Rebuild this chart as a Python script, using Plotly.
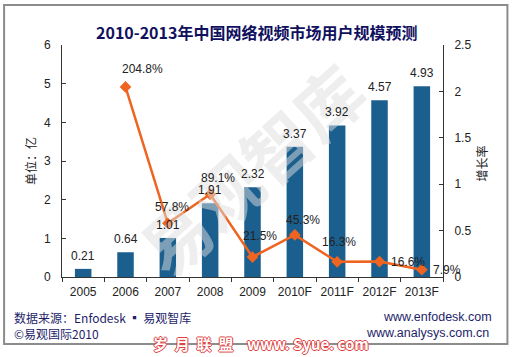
import plotly.graph_objects as go

# ---- data ----
years = ["2005", "2006", "2007", "2008", "2009", "2010F", "2011F", "2012F", "2013F"]
users = [0.21, 0.64, 1.01, 1.91, 2.32, 3.37, 3.92, 4.57, 4.93]          # 亿
growth_years = ["2006", "2007", "2008", "2009", "2010F", "2011F", "2012F", "2013F"]
growth_pct = [204.8, 57.8, 89.1, 21.5, 45.3, 16.3, 16.6, 7.9]           # %

title_text = "2010-2013年中国网络视频市场用户规模预测"
y_title = "单位：亿"
y2_title = "增长率"

# label offsets (px) for growth labels
growth_label_dx = [17, 4, 8, 7, 8, 2, 28, 25]
growth_label_dy = [18, 16, 16, 21, 15, 20, 0, 0]

W, H = 518, 357
PX0, PX1, PY0, PY1 = 62, 443.5, 45, 277


def px(x):
    return (x - PX0) / (PX1 - PX0)


def py(y):
    return (PY1 - y) / (PY1 - PY0)


BAR = "#1b5f8f"
LINE = "#ee6420"
TXT = "#222222"
NAVY = "#1e1e6a"
SANS = "Liberation Sans, Arial, sans-serif"
CJK = "Noto Sans CJK SC, sans-serif"

fig = go.Figure()
fig.add_trace(go.Bar(x=years, y=users, marker_color=BAR, marker_line_width=0,
                     yaxis="y", showlegend=False))
fig.add_trace(go.Scatter(x=growth_years, y=[g / 100 for g in growth_pct], yaxis="y2",
                         mode="lines+markers",
                         line=dict(color=LINE, width=2.5),
                         marker=dict(symbol="diamond", size=9, color=LINE),
                         showlegend=False, cliponaxis=False))


def pann(x, y, text, size, color, family, xanchor="center", **kw):
    return dict(x=px(x), y=py(y), xref="paper", yref="paper", text=text, showarrow=False,
                xanchor=xanchor, yanchor="middle",
                font=dict(size=size, color=color, family=family, **kw.pop("fontextra", {})), **kw)


ann = []
# watermark (drawn first so labels sit above it)
ann.append(pann(250, 168, "<b>易观智库</b>", 68, "rgba(222,222,222,0.5)", CJK, textangle=-42))
for yr, v in zip(years, users):
    ann.append(dict(x=years.index(yr), y=v, xref="x", yref="y", text=f"{v:.2f}", showarrow=False,
                    yshift=13, font=dict(size=12, color=TXT, family=SANS)))
for yr, g, dx, dy in zip(growth_years, growth_pct, growth_label_dx, growth_label_dy):
    ann.append(dict(x=years.index(yr), y=g / 100, xref="x", yref="y2", text=f"{g:.1f}%",
                    showarrow=False, xshift=dx, yshift=dy,
                    font=dict(size=12, color=TXT, family=SANS)))

# title
ann.append(pann(257, 32, f"<b>{title_text}</b>", 16, "#10105e", CJK))
# axis titles
ann.append(pann(30, 161, y_title, 12, TXT, CJK, textangle=-90))
ann.append(pann(482, 163, y2_title, 12, TXT, CJK, textangle=-90))
# footer
ann.append(pann(12, 317, "数据来源：Enfodesk ▪ 易观智库", 12, NAVY, CJK, xanchor="left"))
ann.append(pann(12, 333, "©易观国际2010", 12, NAVY, CJK, xanchor="left"))
ann.append(pann(495, 317, "www.enfodesk.com", 12.5, NAVY, SANS, xanchor="right"))
ann.append(pann(492, 333, "www.analysys.com.cn", 12.5, NAVY, SANS, xanchor="right"))
# bottom red site watermark
NB = "&nbsp;"
ann.append(pann(261, 343,
                f"<b>岁{NB*2}月{NB*2}联{NB*2}盟{NB*4}www. Syue. com</b>", 15, "white", CJK,
                fontextra=dict(shadow="1px 0 0 #e04040, -1px 0 0 #e04040, "
                                      "0 1px 0 #e04040, 0 -1px 0 #e04040")))

shapes = [dict(type="rect", xref="paper", yref="paper",
               x0=px(4), x1=px(508), y0=py(344), y1=py(5),
               line=dict(color="#8c8c8c", width=2), fillcolor="rgba(0,0,0,0)", layer="below")]

fig.update_layout(
    width=W, height=H,
    margin=dict(l=PX0, r=W - PX1, t=PY0, b=H - PY1, autoexpand=False),
    paper_bgcolor="white", plot_bgcolor="white",
    bargap=0.61,
    font=dict(family=SANS, size=12, color=TXT),
    xaxis=dict(type="category", range=[-0.5, len(years) - 0.5], autorange=False,
               showline=True, linecolor="#333", linewidth=1, tickangle=0,
               ticks="outside", tickson="boundaries", ticklen=4, tickcolor="#333",
               showgrid=False, tickfont=dict(size=12, color=TXT), ticklabelstandoff=4),
    yaxis=dict(range=[0, 6], autorange=False, dtick=1, showline=True, linecolor="#333", linewidth=1,
               ticks="inside", ticklen=4, tickcolor="#333", showgrid=False, zeroline=False,
               tickfont=dict(size=12, color=TXT), ticklabelstandoff=8),
    yaxis2=dict(range=[0, 2.5], autorange=False, dtick=0.5, overlaying="y", side="right",
                showline=True, linecolor="#333", linewidth=1, ticks="inside", ticklen=4,
                tickcolor="#333", showgrid=False, zeroline=False,
                tickfont=dict(size=12, color=TXT), ticklabelstandoff=8),
    annotations=ann, shapes=shapes,
)

fig.write_html("out.html", config={"displayModeBar": False},
               post_script="document.body.style.margin='0';")
